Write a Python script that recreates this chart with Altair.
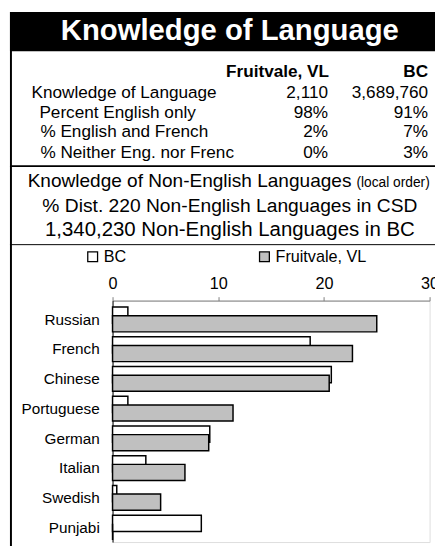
import altair as alt
import pandas as pd

FONT = "Liberation Sans"

# ---- data ----
title_text = "Knowledge of Language"
col_headers = ["Fruitvale, VL", "BC"]
row_labels = ["Knowledge of Language", "Percent English only",
              "% English and French", "% Neither Eng. nor French"]
fruitvale_vals = ["2,110", "98%", "2%", "0%"]
bc_vals = ["3,689,760", "91%", "7%", "3%"]
section_title = "Knowledge of Non-English Languages"
section_note = "(local order)"
section_line2 = "% Dist. 220 Non-English Languages in CSD"
section_line3 = "1,340,230 Non-English Languages in BC"

languages = ["Russian", "French", "Chinese", "Portuguese",
             "German", "Italian", "Swedish", "Punjabi"]
bc_pct = [1.45, 18.7, 20.7, 1.45, 9.2, 3.15, 0.4, 8.4]
fv_pct = [25.0, 22.7, 20.5, 11.4, 9.1, 6.85, 4.55, 0.0]
series_names = ["BC", "Fruitvale, VL"]
x_ticks = [0, 10, 20, 30]

# ---- helpers ----
one = pd.DataFrame({"k": [0]})


def txt(text, x, y, size, align="left", weight="normal", color="black", **kw):
    return alt.Chart(pd.DataFrame({"t": [text]})).mark_text(
        align=align, baseline="alphabetic", fontSize=size, fontWeight=weight,
        color=color, font=FONT, **kw
    ).encode(x=alt.value(x), y=alt.value(y), text="t:N")


def hrule(y, width):
    return alt.Chart(one).mark_rule(color="black", strokeWidth=width).encode(
        x=alt.value(-104.5), x2=alt.value(340), y=alt.value(y))


layers = []

# title bar
layers.append(alt.Chart(one).mark_rect(color="black").encode(
    x=alt.value(-104.5), x2=alt.value(340), y=alt.value(-294), y2=alt.value(-254)))
layers.append(txt(title_text, 119.5, -265.5, 29.8, align="center", weight="bold", color="white"))

# table
layers.append(txt(col_headers[0], 220.5, -227.5, 17.5, align="right", weight="bold"))
layers.append(txt(col_headers[1], 321.5, -227.5, 17.5, align="right", weight="bold"))
row_x = [-82.5, -74.5, -73.5, -73.5]
row_y = [-206.5, -186.5, -166.5, -145.5]
for i in range(len(row_labels)):
    extra = {"limit": 205, "ellipsis": "\u200a"} if i == 3 else {}
    layers.append(txt(row_labels[i], row_x[i], row_y[i], 17.5, **extra))
    layers.append(txt(fruitvale_vals[i], 219.5, row_y[i], 17.5, align="right"))
    layers.append(txt(bc_vals[i], 321.5, row_y[i], 17.5, align="right"))

layers.append(hrule(-137, 2))

# section heading
layers.append(txt(section_title, -86.5, -116, 19.4))
layers.append(txt(section_note, 248.5, -116, 14))
layers.append(txt(section_line2, 119.5, -90.5, 19.6, align="center"))
layers.append(txt(section_line3, 119.5, -66, 20.8, align="center"))

layers.append(hrule(-57, 1))

# left frame border
layers.append(alt.Chart(one).mark_rule(color="black", strokeWidth=2).encode(
    x=alt.value(-103.5), y=alt.value(-294), y2=alt.value(250)))

# bars
bars_df = pd.DataFrame({
    "language": languages * 2,
    "series": [series_names[0]] * len(languages) + [series_names[1]] * len(languages),
    "pct": bc_pct + fv_pct,
})

x_enc = alt.X("pct:Q", scale=alt.Scale(domain=[0, 30], nice=False), title=None,
              axis=alt.Axis(orient="top", values=x_ticks, grid=False, domainColor="#808080",
                            domainWidth=1, tickColor="#808080", tickSize=4, labelPadding=8.5,
                            labelBaseline="alphabetic", labelFontSize=16.5, labelFont=FONT,
                            labelColor="black", labelFlush=False, labelOverlap=False))
y_enc = alt.Y("language:N", sort=languages, title=None,
              scale=alt.Scale(domain=languages, paddingInner=0, paddingOuter=0.06),
              axis=alt.Axis(ticks=False, domainColor="black", domainWidth=1, labelPadding=13.5,
                            labelFontSize=15.6, labelFont=FONT, labelColor="black",
                            labelOffset=2.5))
fill_enc = alt.Fill("series:N",
                    scale=alt.Scale(domain=series_names, range=["white", "#c0c0c0"]),
                    legend=alt.Legend(orient="none", legendX=-28.5, legendY=-53,
                                      direction="horizontal", title=None, symbolType="square",
                                      symbolSize=100, symbolStrokeColor="black",
                                      symbolStrokeWidth=1.3, labelFontSize=16.5, labelFont=FONT,
                                      labelColor="black", labelOffset=3, columnPadding=132,
                                      padding=0))

base = alt.Chart(bars_df).encode(x=x_enc, y=y_enc, fill=fill_enc)
bc_bar = base.transform_filter(alt.datum.series == series_names[0]).mark_bar(
    height=16.5, yOffset=-2.1, stroke="black", strokeWidth=1.5)
fv_bar = base.transform_filter(alt.datum.series == series_names[1]).mark_bar(
    height=16.5, yOffset=6.65, stroke="black", strokeWidth=1.5)
layers.append(bc_bar)
layers.append(fv_bar)

chart = alt.layer(*layers).properties(
    width=323, height=246,
    autosize=alt.AutoSizeParams(type="none"),
    padding={"left": 106.5, "top": 293, "right": 5.5, "bottom": 3},
    background="white",
).configure_view(stroke=None).configure(font=FONT)

chart.save("out.html", embed_options={"renderer": "svg", "actions": False})
